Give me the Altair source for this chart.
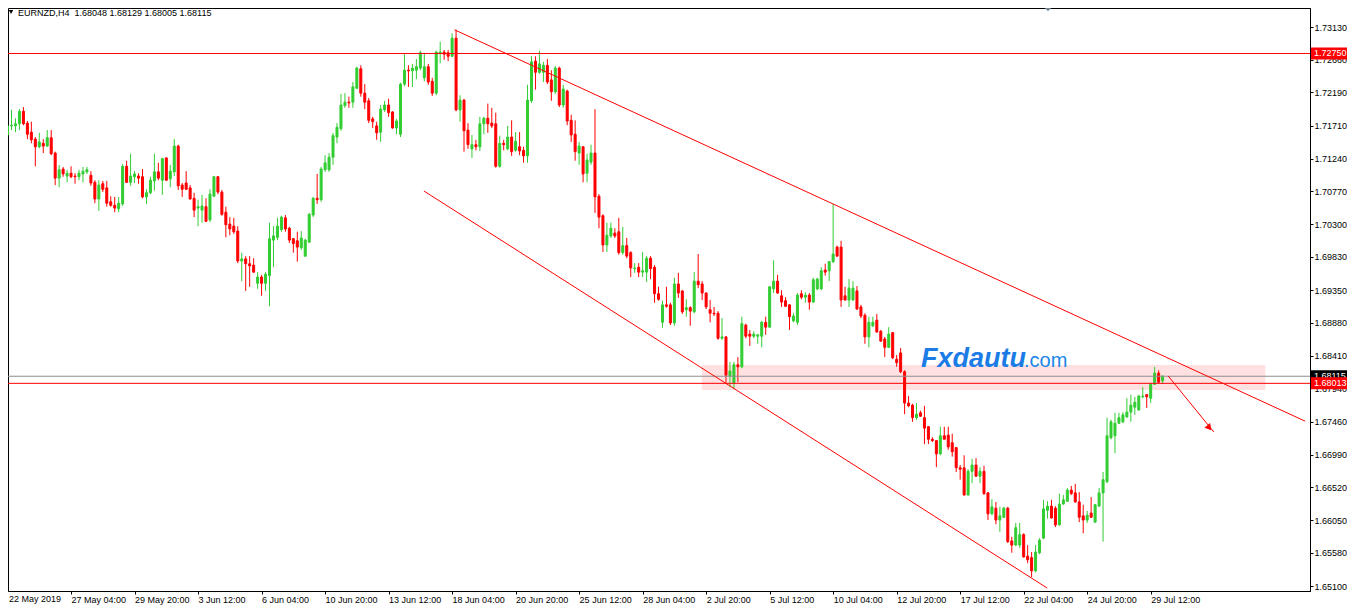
import altair as alt
import pandas as pd

# ---------------- data (EURNZD, H4) ----------------
OPEN = [1.7158,1.7171,1.7171,1.7174,1.7192,1.7175,1.7162,1.7152,1.7141,1.7146,
        1.7142,1.7154,1.7132,1.7096,1.7109,1.7099,1.7103,1.7099,1.7098,1.7102,
        1.7105,1.7100,1.7090,1.7066,1.7088,1.7082,1.7062,1.7057,1.7052,1.7059,
        1.7113,1.7090,1.7098,1.7099,1.7098,1.7069,1.7075,1.7092,1.7105,1.7093,
        1.7125,1.7095,1.7105,1.7142,1.7086,1.7089,1.7082,1.7067,1.7053,1.7050,
        1.7055,1.7036,1.7070,1.7098,1.7076,1.7047,1.7030,1.7027,1.7020,1.6977,
        1.6980,1.6973,1.6971,1.6945,1.6954,1.6945,1.6956,1.7007,1.7011,1.7022,
        1.7039,1.7024,1.7009,1.7006,1.6996,1.6984,1.7004,1.7043,1.7067,1.7065,
        1.7108,1.7108,1.7126,1.7155,1.7167,1.7200,1.7205,1.7205,1.7225,1.7253,
        1.7218,1.7207,1.7181,1.7171,1.7162,1.7194,1.7201,1.7191,1.7168,1.7159,
        1.7231,1.7251,1.7250,1.7251,1.7254,1.7240,1.7256,1.7235,1.7218,1.7276,
        1.7277,1.7276,1.7271,1.7297,1.7194,1.7208,1.7165,1.7138,1.7144,1.7141,
        1.7174,1.7182,1.7175,1.7174,1.7113,1.7146,1.7138,1.7155,1.7136,1.7141,
        1.7136,1.7128,1.7207,1.7264,1.7248,1.7248,1.7258,1.7237,1.7220,1.7254,
        1.7201,1.7221,1.7179,1.7159,1.7132,1.7141,1.7103,1.7119,1.7132,1.7070,
        1.7042,1.7000,1.7013,1.7017,1.7019,1.6989,1.6999,1.6989,1.6966,1.6968,
        1.6961,1.6961,1.6981,1.6968,1.6930,1.6889,1.6914,1.6914,1.6888,1.6944,
        1.6934,1.6907,1.6910,1.6904,1.6948,1.6944,1.6931,1.6907,1.6902,1.6902,
        1.6866,1.6868,1.6812,1.6802,1.6828,1.6825,1.6885,1.6872,1.6869,1.6869,
        1.6869,1.6889,1.6882,1.6937,1.6948,1.6927,1.6920,1.6914,1.6891,1.6889,
        1.6930,1.6925,1.6928,1.6918,1.6937,1.6937,1.6964,1.6963,1.6976,1.6997,
        1.6997,1.6927,1.6921,1.6921,1.6934,1.6911,1.6899,1.6868,1.6884,1.6892,
        1.6876,1.6865,1.6853,1.6874,1.6836,1.6845,1.6818,1.6773,1.6770,1.6752,
        1.6759,1.6752,1.6739,1.6721,1.6719,1.6700,1.6726,1.6727,1.6716,1.6709,
        1.6680,1.6680,1.6641,1.6675,1.6684,1.6668,1.6675,1.6644,1.6614,1.6622,
        1.6605,1.6609,1.6622,1.6575,1.6569,1.6569,1.6584,1.6553,1.6551,1.6532,
        1.6558,1.6579,1.6619,1.6625,1.6622,1.6598,1.6628,1.6632,1.6648,1.6644,
        1.6631,1.6611,1.6605,1.6615,1.6602,1.6625,1.6644,1.6660,1.6723,1.6726,
        1.6744,1.6746,1.6753,1.6760,1.6767,1.6763,1.6782,1.6785,1.6780,1.6800,
        1.6816,1.68048]
HIGH = [1.7181,1.7194,1.7182,1.7195,1.7198,1.7178,1.7177,1.7155,1.7161,1.7152,
        1.7165,1.7165,1.7134,1.7115,1.7112,1.7108,1.7113,1.7103,1.7108,1.7112,
        1.7112,1.7106,1.7093,1.7093,1.7092,1.7092,1.7070,1.7069,1.7069,1.7116,
        1.7121,1.7131,1.7106,1.7103,1.7109,1.7080,1.7098,1.7131,1.7118,1.7125,
        1.7126,1.7115,1.7152,1.7144,1.7089,1.7106,1.7086,1.7075,1.7065,1.7072,
        1.7067,1.7080,1.7099,1.7099,1.7079,1.7055,1.7040,1.7039,1.7027,1.6989,
        1.6984,1.6984,1.6981,1.6961,1.6957,1.6961,1.7032,1.7027,1.7039,1.7042,
        1.7043,1.7026,1.7010,1.7019,1.7020,1.7009,1.7046,1.7069,1.7102,1.7112,
        1.7129,1.7132,1.7161,1.7175,1.7217,1.7218,1.7213,1.7234,1.7256,1.7258,
        1.7231,1.7211,1.7184,1.7177,1.7201,1.7207,1.7210,1.7192,1.7181,1.7233,
        1.7274,1.7258,1.7260,1.7267,1.7279,1.7276,1.7260,1.7240,1.7279,1.7292,
        1.7280,1.7280,1.7304,1.7309,1.7215,1.7210,1.7175,1.7158,1.7151,1.7184,
        1.7184,1.7203,1.7197,1.7190,1.7157,1.7151,1.7171,1.7179,1.7162,1.7162,
        1.7141,1.7230,1.7271,1.7271,1.7279,1.7263,1.7267,1.7251,1.7257,1.7256,
        1.7230,1.7223,1.7187,1.7179,1.7148,1.7142,1.7131,1.7144,1.7195,1.7073,
        1.7044,1.7032,1.7032,1.7024,1.7039,1.7026,1.7010,1.6991,1.6974,1.6974,
        1.6990,1.6984,1.6984,1.6971,1.6940,1.6920,1.6940,1.6917,1.6953,1.6960,
        1.6935,1.6922,1.6912,1.6961,1.6987,1.6948,1.6932,1.6921,1.6911,1.6905,
        1.6895,1.6869,1.6832,1.6832,1.6839,1.6897,1.6887,1.6878,1.6876,1.6872,
        1.6891,1.6897,1.6941,1.6978,1.6957,1.6935,1.6925,1.6915,1.6902,1.6931,
        1.6935,1.6932,1.6931,1.6953,1.6953,1.6968,1.6973,1.6977,1.7059,1.6999,
        1.7006,1.6940,1.6951,1.6948,1.6941,1.6914,1.6902,1.6897,1.6897,1.6901,
        1.6878,1.6868,1.6882,1.6875,1.6842,1.6852,1.6820,1.6783,1.6772,1.6773,
        1.6762,1.6769,1.6740,1.6724,1.6720,1.6739,1.6739,1.6739,1.6729,1.6710,
        1.6684,1.6698,1.6678,1.6693,1.6694,1.6681,1.6683,1.6645,1.6635,1.6631,
        1.6624,1.6624,1.6624,1.6581,1.6601,1.6601,1.6586,1.6569,1.6559,1.6569,
        1.6579,1.6634,1.6632,1.6634,1.6625,1.6643,1.6641,1.6651,1.6654,1.6657,
        1.6645,1.6627,1.6618,1.6638,1.6628,1.6651,1.6674,1.6752,1.6749,1.6759,
        1.6759,1.6760,1.6780,1.6785,1.6782,1.6785,1.6796,1.6786,1.6802,1.6825,
        1.6820,1.68129]
LOW = [1.7152,1.7165,1.7162,1.7165,1.7172,1.7152,1.7146,1.7113,1.7139,1.7132,
       1.7141,1.7129,1.7086,1.7083,1.7098,1.7090,1.7096,1.7088,1.7093,1.7090,
       1.7102,1.7085,1.7060,1.7049,1.7076,1.7055,1.7055,1.7047,1.7047,1.7056,
       1.7089,1.7085,1.7089,1.7088,1.7067,1.7059,1.7073,1.7078,1.7093,1.7072,
       1.7092,1.7083,1.7099,1.7079,1.7069,1.7079,1.7065,1.7040,1.7027,1.7032,
       1.7033,1.7033,1.7069,1.7073,1.7042,1.7011,1.7014,1.7016,1.6974,1.6948,
       1.6934,1.6940,1.6960,1.6937,1.6927,1.6934,1.6912,1.6968,1.7007,1.7019,
       1.7019,1.7003,1.6989,1.6976,1.6993,1.6983,1.7003,1.7040,1.7059,1.7062,
       1.7105,1.7105,1.7115,1.7146,1.7164,1.7197,1.7197,1.7197,1.7224,1.7213,
       1.7195,1.7175,1.7168,1.7151,1.7148,1.7191,1.7184,1.7167,1.7159,1.7155,
       1.7228,1.7227,1.7227,1.7238,1.7251,1.7235,1.7230,1.7214,1.7215,1.7261,
       1.7266,1.7264,1.7270,1.7192,1.7177,1.7134,1.7138,1.7125,1.7136,1.7135,
       1.7159,1.7161,1.7168,1.7111,1.7111,1.7136,1.7136,1.7128,1.7134,1.7129,
       1.7118,1.7118,1.7204,1.7223,1.7246,1.7234,1.7231,1.7207,1.7217,1.7198,
       1.7197,1.7172,1.7148,1.7121,1.7115,1.7090,1.7090,1.7115,1.7046,1.7024,
       1.6990,1.6990,1.7010,1.7010,1.6986,1.6986,1.6981,1.6954,1.6960,1.6954,
       1.6954,1.6947,1.6951,1.6917,1.6920,1.6881,1.6910,1.6885,1.6884,1.6924,
       1.6901,1.6897,1.6884,1.6902,1.6938,1.6921,1.6908,1.6889,1.6898,1.6864,
       1.6864,1.6802,1.6796,1.6793,1.6803,1.6823,1.6866,1.6855,1.6866,1.6858,
       1.6853,1.6871,1.6881,1.6931,1.6930,1.6911,1.6911,1.6878,1.6889,1.6885,
       1.6922,1.6917,1.6907,1.6917,1.6935,1.6935,1.6956,1.6948,1.6974,1.6983,
       1.6911,1.6920,1.6911,1.6920,1.6907,1.6895,1.6858,1.6853,1.6882,1.6874,
       1.6861,1.6839,1.6852,1.6836,1.6825,1.6816,1.6757,1.6767,1.6746,1.6749,
       1.6753,1.6714,1.6714,1.6717,1.6681,1.6698,1.6724,1.6706,1.6696,1.6674,
       1.6663,1.6640,1.6640,1.6658,1.6667,1.6658,1.6641,1.6605,1.6612,1.6599,
       1.6588,1.6608,1.6572,1.6558,1.6568,1.6565,1.6551,1.6543,1.6523,1.6530,
       1.6556,1.6578,1.6607,1.6607,1.6595,1.6597,1.6627,1.6631,1.6641,1.6630,
       1.6602,1.6586,1.6601,1.6608,1.6601,1.6624,1.6574,1.6658,1.6721,1.6701,
       1.6743,1.6744,1.6752,1.6746,1.6756,1.6762,1.6780,1.6766,1.6773,1.6799,
       1.6802,1.68005]
CLOSE = [1.7171,1.7172,1.7174,1.7192,1.7174,1.7159,1.7151,1.7141,1.7148,1.7142,
         1.7154,1.7131,1.7096,1.7108,1.7102,1.7103,1.7098,1.7098,1.7103,1.7106,
         1.7108,1.7089,1.7066,1.7086,1.7080,1.7060,1.7057,1.7053,1.7060,1.7113,
         1.7090,1.7099,1.7102,1.7096,1.7069,1.7075,1.7093,1.7105,1.7096,1.7124,
         1.7093,1.7106,1.7142,1.7085,1.7080,1.7080,1.7066,1.7050,1.7055,1.7056,
         1.7034,1.7073,1.7098,1.7076,1.7044,1.7029,1.7023,1.7019,1.6977,1.6980,
         1.6973,1.6970,1.6961,1.6954,1.6945,1.6958,1.7009,1.7013,1.7027,1.7040,
         1.7023,1.7007,1.7002,1.6997,1.7010,1.7007,1.7044,1.7067,1.7065,1.7109,
         1.7118,1.7126,1.7157,1.7169,1.7201,1.7205,1.7204,1.7227,1.7254,1.7218,
         1.7205,1.7179,1.7177,1.7161,1.7195,1.7201,1.7190,1.7168,1.7178,1.7231,
         1.7251,1.7250,1.7254,1.7256,1.7276,1.7256,1.7234,1.7218,1.7277,1.7277,
         1.7274,1.7271,1.7297,1.7194,1.7208,1.7164,1.7144,1.7144,1.7141,1.7174,
         1.7182,1.7174,1.7171,1.7113,1.7146,1.7144,1.7155,1.7134,1.7149,1.7135,
         1.7128,1.7208,1.7263,1.7248,1.7260,1.7258,1.7234,1.7220,1.7254,1.7201,
         1.7224,1.7178,1.7158,1.7134,1.7142,1.7102,1.7122,1.7132,1.7069,1.7040,
         1.7000,1.7014,1.7024,1.7013,1.6989,1.6999,1.6984,1.6967,1.6967,1.6961,
         1.6963,1.6981,1.6966,1.6930,1.6922,1.6914,1.6912,1.6888,1.6944,1.6931,
         1.6904,1.6910,1.6905,1.6948,1.6943,1.6931,1.6911,1.6902,1.6901,1.6866,
         1.6868,1.6813,1.6819,1.6828,1.6825,1.6887,1.6869,1.6869,1.6872,1.6871,
         1.6889,1.6882,1.6940,1.6948,1.6931,1.6918,1.6912,1.6897,1.6898,1.6928,
         1.6925,1.6928,1.6918,1.6950,1.6951,1.6963,1.6961,1.6976,1.6987,1.6984,
         1.6921,1.6921,1.6938,1.6938,1.6908,1.6898,1.6868,1.6889,1.6889,1.6875,
         1.6862,1.6853,1.6872,1.6838,1.6831,1.6818,1.6773,1.6769,1.6752,1.6757,
         1.6754,1.6737,1.6721,1.6719,1.6700,1.6726,1.6721,1.6710,1.6703,1.6680,
         1.6678,1.6641,1.6675,1.6684,1.6668,1.6675,1.6643,1.6614,1.6624,1.6605,
         1.6611,1.6622,1.6574,1.6569,1.6594,1.6584,1.6552,1.6548,1.6532,1.6559,
         1.6576,1.6621,1.6625,1.6608,1.6598,1.6628,1.6634,1.6648,1.6643,1.6631,
         1.6609,1.6605,1.6612,1.6609,1.6627,1.6644,1.6663,1.6726,1.6746,1.6744,
         1.6752,1.6756,1.6760,1.6770,1.6774,1.6783,1.6783,1.6782,1.6800,1.6816,
         1.6803,1.68115]

X_TICK_LABELS = ['22 May 2019', '27 May 04:00', '29 May 20:00', '3 Jun 12:00', '6 Jun 04:00',
                 '10 Jun 20:00', '13 Jun 12:00', '18 Jun 04:00', '20 Jun 20:00', '25 Jun 12:00',
                 '28 Jun 04:00', '2 Jul 20:00', '5 Jul 12:00', '10 Jul 04:00', '12 Jul 20:00',
                 '17 Jul 12:00', '22 Jul 04:00', '24 Jul 20:00', '29 Jul 12:00']
BARS_PER_LABEL = 16
Y_TICKS = [1.73130, 1.72660, 1.72190, 1.71710, 1.71240, 1.70770, 1.70300, 1.69830, 1.69350,
           1.68880, 1.68410, 1.67940, 1.67460, 1.66990, 1.66520, 1.66050, 1.65580, 1.65100]

RESISTANCE = 1.72750
SUPPORT = 1.68013
BID = 1.68115
UPPER_TREND = [(112.6, 1.7309), (326.9, 1.6747)]
LOWER_TREND = [(104.9, 1.70775), (261.9, 1.65074)]
ARROW = [(292.4, 1.68119), (303.9, 1.67315)]
ARROW_HEAD = (302.6, 1.67386)
ZONE = {'i0': 174.9, 'i1': 316.9, 'p0': 1.67918, 'p1': 1.68277}

HEADER = 'EURNZD,H4\u00a0\u00a01.68048 1.68129 1.68005 1.68115'

# ---------------- chart ----------------
FONT = 'Liberation Sans'
UP, DOWN = '#32CD32', '#FF0000'
W, H = 1302, 583

df = pd.DataFrame({'i': list(range(len(OPEN))), 'o': OPEN, 'h': HIGH, 'l': LOW, 'c': CLOSE})
df['col'] = [UP if c >= o else DOWN for o, c in zip(OPEN, CLOSE)]

# 4 px per bar, as in the terminal window
xs = alt.Scale(domain=[1.375, 326.875], nice=False, zero=False)
ys = alt.Scale(domain=[1.65031, 1.73403], nice=False, zero=False)

label_arr = '[' + ','.join("'" + s + "'" for s in X_TICK_LABELS) + ']'
x_axis = alt.Axis(values=[k * BARS_PER_LABEL for k in range(1, len(X_TICK_LABELS))],
                  labelExpr=label_arr + '[round(datum.value/' + str(BARS_PER_LABEL) + ')]',
                  orient='bottom', title=None, grid=False, labelAlign='left', labelBaseline='top',
                  labelPadding=1, tickSize=3, labelFlush=False, labelOverlap=False,
                  labelFont=FONT, labelFontSize=9, labelColor='black', tickColor='black',
                  domainColor='black')
y_axis = alt.Axis(values=Y_TICKS, format='.5f', orient='right', title=None, grid=False,
                  labelPadding=1, tickSize=3, labelFont=FONT, labelFontSize=9,
                  labelColor='black', tickColor='black', domainColor='black',
                  labelOverlap=False, labelFlush=False)


def X(field):
    return alt.X(field, scale=xs, axis=x_axis)


def Y(field):
    return alt.Y(field, scale=ys, axis=y_axis)


zone = alt.Chart(pd.DataFrame([ZONE])).mark_rect(color='#FFE1E1').encode(
    x=X('i0:Q'), x2='i1:Q', y=Y('p0:Q'), y2='p1:Q')

wick = alt.Chart(df).mark_rule(strokeWidth=1).encode(
    x=X('i:Q'), y=Y('l:Q'), y2='h:Q', color=alt.Color('col:N', scale=None))

body = alt.Chart(df).mark_bar(size=2, strokeWidth=1).encode(
    x=X('i:Q'), y=Y('o:Q'), y2='c:Q',
    fill=alt.Color('col:N', scale=None), stroke=alt.Color('col:N', scale=None))

hl = pd.DataFrame({'p': [RESISTANCE, BID, SUPPORT], 'col': ['#FF0000', '#8E8E8E', '#FF0000']})
hlines = alt.Chart(hl).mark_rule(strokeWidth=1).encode(
    y=Y('p:Q'), color=alt.Color('col:N', scale=None))

segs = pd.DataFrame({
    'x0': [UPPER_TREND[0][0], LOWER_TREND[0][0], ARROW[0][0]],
    'x1': [UPPER_TREND[1][0], LOWER_TREND[1][0], ARROW[1][0]],
    'y0': [UPPER_TREND[0][1], LOWER_TREND[0][1], ARROW[0][1]],
    'y1': [UPPER_TREND[1][1], LOWER_TREND[1][1], ARROW[1][1]],
})
trend = alt.Chart(segs).mark_rule(strokeWidth=1, color='#FF0000').encode(
    x=X('x0:Q'), x2='x1:Q', y=Y('y0:Q'), y2='y1:Q')

head = alt.Chart(pd.DataFrame({'x': [ARROW_HEAD[0]], 'y': [ARROW_HEAD[1]]})).mark_point(
    shape='triangle', filled=True, color='#FF0000', size=55, angle=140.6, opacity=1).encode(
    x=X('x:Q'), y=Y('y:Q'))

tags = []
for price, bg in [(BID, '#000000'), (SUPPORT, '#FF0000'), (RESISTANCE, '#FF0000')]:
    tdf = pd.DataFrame({'p': [price], 'bg': [bg]})
    box = alt.Chart(tdf).mark_rule(strokeWidth=12, strokeCap='butt').encode(
        y=Y('p:Q'), x=alt.value(W + 1), x2=alt.value(W + 37), color=alt.Color('bg:N', scale=None))
    txt = alt.Chart(tdf).mark_text(align='left', baseline='middle', color='white', font=FONT,
                                   fontSize=9).encode(
        y=Y('p:Q'), x=alt.value(W + 4), text=alt.Text('p:Q', format='.5f'))
    tags += [box, txt]

one = pd.DataFrame({'k': [0]})
first_label = alt.Chart(one).mark_text(align='left', baseline='top', font=FONT, fontSize=9,
                                       color='black').encode(
    x=alt.value(1), y=alt.value(H + 4), text=alt.value(X_TICK_LABELS[0]))
header_tri = alt.Chart(one).mark_point(shape='triangle-down', filled=True, color='black',
                                       size=20, opacity=1).encode(x=alt.value(3), y=alt.value(4))
header = alt.Chart(one).mark_text(align='left', baseline='middle', font=FONT, fontSize=9,
                                  color='black').encode(
    x=alt.value(10), y=alt.value(5), text=alt.value(HEADER))
shift_tri = alt.Chart(one).mark_point(shape='M-1,-0.5L1,-0.5L0,0.5Z', filled=True,
                                      color='#7B8794', size=81, opacity=1).encode(
    x=alt.value(1040), y=alt.value(1))
logo1 = alt.Chart(one).mark_text(align='left', baseline='alphabetic', font=FONT, fontSize=27,
                                 fontStyle='italic', fontWeight='bold', color='#1C7CE6').encode(
    x=alt.value(913), y=alt.value(359), text=alt.value('Fxdautu'))
logo2 = alt.Chart(one).mark_text(align='left', baseline='alphabetic', font=FONT, fontSize=20,
                                 color='#2186EA').encode(
    x=alt.value(1016), y=alt.value(359), text=alt.value('.com'))

chart = alt.layer(zone, wick, body, hlines, trend, head, *tags, first_label, header_tri, header,
                  shift_tri, logo1, logo2).properties(
    width=W, height=H,
    autosize=alt.AutoSizeParams(type='none'),
    padding={'left': 0, 'top': 0, 'right': 37, 'bottom': 15},
    background='white',
).configure_view(stroke='black', strokeWidth=1)

chart.save('out.html', embed_options={'renderer': 'svg', 'actions': False})
